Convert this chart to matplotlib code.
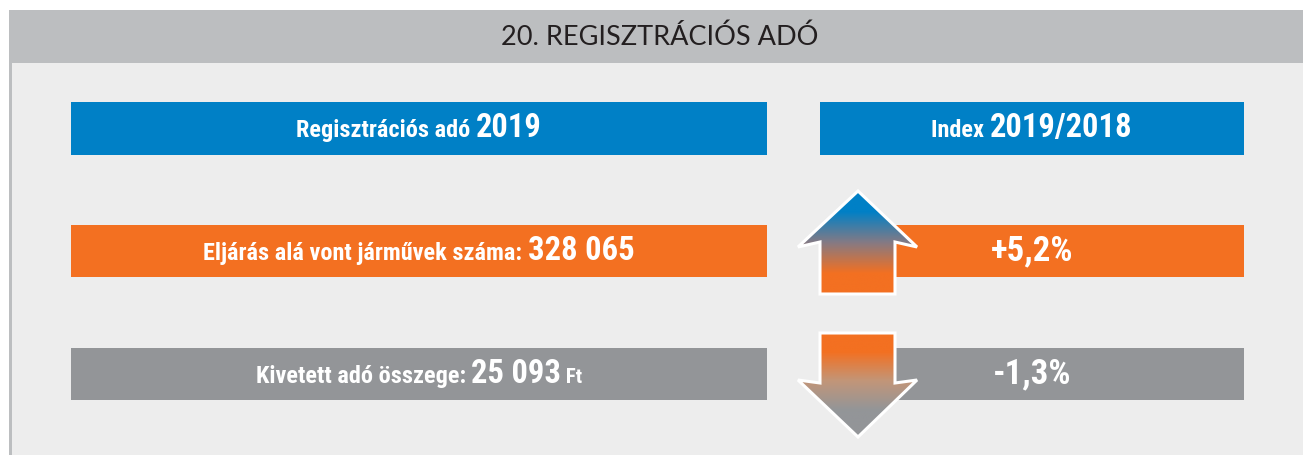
import numpy as np
import matplotlib
matplotlib.use("Agg")
import matplotlib.pyplot as plt
from matplotlib.patches import Rectangle, Polygon
from matplotlib.colors import LinearSegmentedColormap
from matplotlib.offsetbox import TextArea, HPacker, AnnotationBbox

# data
title = "20. REGISZTRÁCIÓS ADÓ"
header_left = ("Regisztrációs adó ", "2019")
header_right = ("Index ", "2019/2018")
row_labels = ["Eljárás alá vont járművek száma: ", "Kivetett adó összege: "]
row_values = [328065, 25093]
row_units = ["", " Ft"]
index_change = [5.2, -1.3]

BLUE = "#0080c6"
ORANGE = "#f37021"
GREY = "#939598"
TITLE_BG = "#bcbec0"
PANEL_BG = "#ededed"
BOLD = ["Liberation Sans Narrow", "DejaVu Sans Condensed", "Roboto Condensed", "DejaVu Sans"]


def fmt_thousands(v):
    return f"{v:,}".replace(",", " ")


def fmt_pct(v):
    return f"{v:+.1f}%".replace(".", ",")


def mixed_text(ax, x, y, parts):
    # parts: list of (text, size)
    boxes = [TextArea(t, textprops=dict(color="white", fontsize=s, fontweight="bold",
                                        family=BOLD, fontstretch="condensed"))
             for t, s in parts if t]
    pack = HPacker(children=boxes, align="baseline", pad=0, sep=0)
    ab = AnnotationBbox(pack, (x, y), xycoords="data", frameon=False,
                        box_alignment=(0.5, 0.5), pad=0)
    ax.add_artist(ab)


def gradient_arrow(ax, pts, y_top, y_bot, stops):
    xs = [p[0] for p in pts]
    cmap = LinearSegmentedColormap.from_list("g", stops)
    grad = np.linspace(0, 1, 256).reshape(-1, 1)
    poly = Polygon(pts, closed=True, fc="none", ec="none")
    ax.add_patch(poly)
    im = ax.imshow(grad, cmap=cmap, aspect="auto", origin="upper",
                   extent=(min(xs), max(xs), y_bot, y_top), zorder=3)
    im.set_clip_path(poly)
    ax.add_patch(Polygon(pts, closed=True, fc="none", ec="white", lw=2.2,
                         joinstyle="miter", zorder=4))


fig = plt.figure(figsize=(13.03, 4.55), dpi=100)
ax = fig.add_axes([0, 0, 1, 1])
ax.set_xlim(0, 1303)
ax.set_ylim(455, 0)
ax.axis("off")
fig.patch.set_facecolor("white")

# frame
ax.add_patch(Rectangle((12, 63), 1291, 392, fc=PANEL_BG, ec="none", zorder=0))
ax.add_patch(Rectangle((9, 10), 1294, 53, fc=TITLE_BG, ec="none", zorder=1))
ax.add_patch(Rectangle((9, 63), 3, 392, fc=TITLE_BG, ec="none", zorder=1))
ax.text(660, 37, title, ha="center", va="center", fontsize=19.5, fontweight="normal",
        color="#231f20", family=["Lato", "DejaVu Sans"], zorder=2)

# headers
L0, L1 = 71, 767
R0, R1 = 820, 1244
rc = (R0 + R1) / 2
ax.add_patch(Rectangle((L0, 102), L1 - L0, 53, fc=BLUE, ec="none", zorder=2))
ax.add_patch(Rectangle((R0, 102), R1 - R0, 53, fc=BLUE, ec="none", zorder=2))
mixed_text(ax, (L0 + L1) / 2, 128, [(header_left[0], 17.5), (header_left[1], 23.5)])
mixed_text(ax, rc, 128, [(header_right[0], 17.5), (header_right[1], 23.5)])

# rows
row_y = [225, 348]
row_colors = [ORANGE, GREY]
for lab, val, unit, chg, y, c in zip(row_labels, row_values, row_units,
                                     index_change, row_y, row_colors):
    ax.add_patch(Rectangle((L0, y), L1 - L0, 52, fc=c, ec="none", zorder=2))
    ax.add_patch(Rectangle((895, y), R1 - 895, 52, fc=c, ec="none", zorder=2))
    mixed_text(ax, (L0 + L1) / 2, y + 26,
               [(lab, 17.5), (fmt_thousands(val), 23.5), (unit, 15)])
    mixed_text(ax, rc, y + 26, [(fmt_pct(chg), 25)])

# arrows
up = [(858, 191), (917, 247), (895, 242), (895, 294), (820, 294),
      (820, 242), (798, 247)]
gradient_arrow(ax, up, 191, 294,
               [(0, BLUE), (0.2, BLUE), (0.5, "#857a84"), (0.8, ORANGE), (1, ORANGE)])
down = [(820, 333), (895, 333), (895, 383), (917, 380), (858, 437),
        (798, 380), (820, 383)]
gradient_arrow(ax, down, 333, 437,
               [(0, ORANGE), (0.18, ORANGE), (0.46, "#c29679"), (0.74, GREY), (1, GREY)])

fig.savefig("out.png", dpi=100)
